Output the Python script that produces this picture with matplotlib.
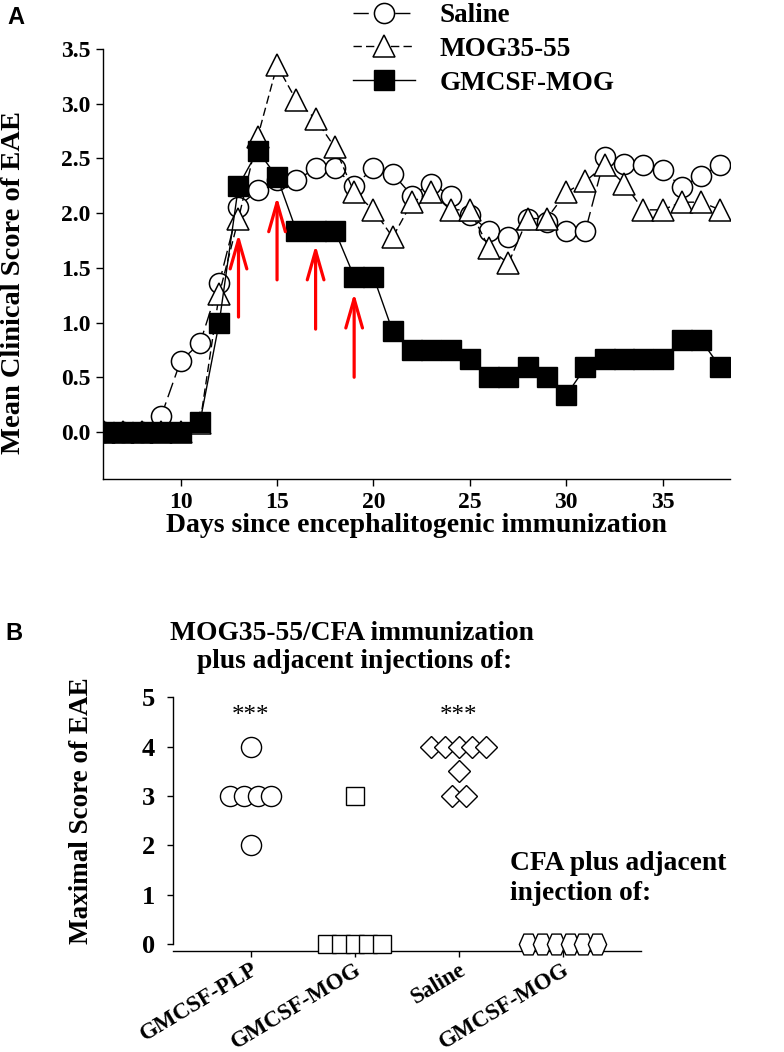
import matplotlib
matplotlib.use("Agg")
import matplotlib.pyplot as plt
from matplotlib.path import Path
import numpy as np

# ---------------- Panel A data ----------------
days = list(range(6, 39))
saline = [0, 0, 0, 0.15, 0.65, 0.81, 1.36, 2.06, 2.21, 2.30, 2.30, 2.41, 2.41, 2.25,
          2.41, 2.36, 2.16, 2.27, 2.16, 1.98, 1.84, 1.78, 1.95, 1.92, 1.84, 1.84,
          2.51, 2.45, 2.44, 2.39, 2.24, 2.34, 2.44]
mog = [0, 0, 0, 0, 0, 0.08, 1.26, 1.95, 2.70, 3.35, 3.03, 2.86, 2.60, 2.19, 2.03, 1.78,
       2.10, 2.19, 2.03, 2.03, 1.68, 1.54, 1.95, 1.95, 2.19, 2.29, 2.44, 2.27, 2.03,
       2.03, 2.10, 2.10, 2.03]
gmcsf_mog = [0, 0, 0, 0, 0, 0.09, 1.00, 2.25, 2.57, 2.33, 1.84, 1.84, 1.84, 1.42, 1.42,
             0.92, 0.75, 0.75, 0.75, 0.67, 0.50, 0.50, 0.59, 0.50, 0.335, 0.59, 0.67,
             0.67, 0.67, 0.67, 0.84, 0.84, 0.59]
series_labels = ["Saline", "MOG35-55", "GMCSF-MOG"]
arrow_days = [13, 15, 17, 19]
arrow_tail = [1.05, 1.39, 0.94, 0.50]
arrow_tip = [1.81, 2.15, 1.71, 1.27]
xticks_a = [10, 15, 20, 25, 30, 35]
yticks_a = [0.0, 0.5, 1.0, 1.5, 2.0, 2.5, 3.0, 3.5]

# ---------------- Panel B data ----------------
groups_b = ["GMCSF-PLP", "GMCSF-MOG", "Saline", "GMCSF-MOG"]
vals_plp = [4, 3, 3, 3, 3, 2]
vals_gmog = [3, 0, 0, 0, 0, 0]
vals_saline = [4, 4, 4, 4, 4, 3.5, 3, 3]
vals_cfa = [0, 0, 0, 0, 0, 0]
yticks_b = [0, 1, 2, 3, 4, 5]

SERIF = ["Liberation Serif", "DejaVu Serif"]
SANS = ["Liberation Sans", "DejaVu Sans"]
plt.rcParams["font.family"] = SERIF
plt.rcParams["font.weight"] = "bold"

W, H = 784, 1052
fig = plt.figure(figsize=(W / 100, H / 100), dpi=100)

def fx(px):
    return px / W

def fy(py):
    return 1 - py / H

# ---------------- Panel A ----------------
axA = fig.add_axes([fx(103), fy(479), fx(730) - fx(103), fy(49) - fy(479)])
axA.plot(days, saline, color="black", lw=1.0, dashes=(11, 4), marker="o",
         markersize=14.5, markerfacecolor="white", markeredgecolor="black",
         markeredgewidth=1.1, label=series_labels[0], zorder=3)
axA.plot(days, mog, color="black", lw=1.0, dashes=(6, 3), marker="^",
         markersize=16, markerfacecolor="white", markeredgecolor="black",
         markeredgewidth=1.1, label=series_labels[1], zorder=4)
axA.plot(days, gmcsf_mog, color="black", lw=1.0, marker="s",
         markersize=15, markerfacecolor="black", markeredgecolor="black",
         label=series_labels[2], zorder=5)
for d, t0, t1 in zip(arrow_days, arrow_tail, arrow_tip):
    axA.annotate("", xy=(d, t1), xytext=(d, t0),
                 arrowprops=dict(arrowstyle="->,head_length=21,head_width=6",
                                 mutation_scale=1, color="#ff0000", lw=2.3,
                                 shrinkA=0, shrinkB=0), zorder=6)
axA.set_xlim(5.97, 38.5)
axA.set_ylim(-0.43, 3.5)
axA.set_xticks(xticks_a)
axA.set_yticks(yticks_a)
axA.set_yticklabels([f"{v:.1f}" for v in yticks_a])
for s in ["top", "right"]:
    axA.spines[s].set_visible(False)
for s in ["left", "bottom"]:
    axA.spines[s].set_linewidth(1.0)
axA.tick_params(direction="out", length=5, width=1.0, labelsize=17, pad=4)
fig.text(fx(416), fy(525), "Days since encephalitogenic immunization",
         fontsize=20, fontweight="bold", ha="center", va="center")
fig.text(fx(14), fy(282), "Mean Clinical Score of EAE", fontsize=20.5,
         fontweight="bold", ha="center", va="center", rotation=90)
leg = fig.legend(loc="upper left", bbox_to_anchor=(fx(353), fy(3)),
                 frameon=False, borderpad=0, borderaxespad=0,
                 handlelength=2.3, handletextpad=0.9, labelspacing=0.33,
                 prop={"family": SERIF, "weight": "bold", "size": 19.5})
fig.text(fx(7), fy(17), "A", fontsize=17, fontweight="bold", family=SANS,
         va="center", ha="left")

# ---------------- Panel B ----------------
axB = fig.add_axes([fx(172.7), fy(950.7), fx(640.7) - fx(172.7),
                    fy(697.3) - fy(950.7)])
xpos = [1, 2, 3, 4]
step = 0.132

def swarm_x(center, vals):
    vals = np.asarray(vals, dtype=float)
    uniq = []
    for v in vals:
        if v not in uniq:
            uniq.append(v)
    out_x, out_y = [], []
    for u in uniq:
        n = int(np.sum(vals == u))
        offs = (np.arange(n) - (n - 1) / 2) * step
        out_x.extend(center + offs)
        out_y.extend([u] * n)
    return out_x, out_y

hexagon = Path([(-0.44, 0.0), (-0.22, 0.5), (0.22, 0.5), (0.44, 0.0),
                (0.22, -0.5), (-0.22, -0.5), (-0.44, 0.0)],
               [Path.MOVETO] + [Path.LINETO] * 5 + [Path.CLOSEPOLY])

specs = [
    (vals_plp, "o", 14.5),
    (vals_gmog, "s", 13),
    (vals_saline, "D", 11.5),
    (vals_cfa, hexagon, 15),
]
for x0, (vals, mk, ms) in zip(xpos, specs):
    xs, ys = swarm_x(x0, vals)
    for xx, yy in zip(xs, ys):
        axB.plot([xx], [yy], linestyle="none", marker=mk, markersize=ms,
                 markerfacecolor="white", markeredgecolor="black",
                 markeredgewidth=1.0, clip_on=False, zorder=4)

axB.set_xlim(0.25, 4.75)
axB.set_ylim(-0.135, 5.0)
axB.set_yticks(yticks_b)
axB.set_xticks(xpos)
axB.set_xticklabels(groups_b, rotation=31, ha="right", rotation_mode="anchor",
                    fontsize=16.5, fontweight="bold")
for s in ["top", "right"]:
    axB.spines[s].set_visible(False)
axB.spines["left"].set_bounds(0, 5)
axB.spines["left"].set_linewidth(1.0)
axB.spines["bottom"].set_linewidth(1.0)
axB.tick_params(axis="y", direction="out", length=4, width=1.0, labelsize=19, pad=9)
axB.tick_params(axis="x", direction="out", length=4, width=1.0, pad=2)
fig.text(fx(81.7), fy(811), "Maximal Score of EAE", fontsize=19.5,
         fontweight="bold", ha="center", va="center", rotation=90)

axB.text(1, 4.63, "***", fontsize=18, fontweight="normal", ha="center", va="center")
axB.text(3, 4.63, "***", fontsize=18, fontweight="normal", ha="center", va="center")
fig.text(fx(352), fy(634), "MOG35-55/CFA immunization", fontsize=19.8,
         fontweight="bold", ha="center", va="center")
fig.text(fx(355), fy(662), "plus adjacent injections of:", fontsize=19.8,
         fontweight="bold", ha="center", va="center")
fig.text(fx(510), fy(863), "CFA plus adjacent", fontsize=19.8,
         fontweight="bold", ha="left", va="center")
fig.text(fx(510), fy(893), "injection of:", fontsize=19.8,
         fontweight="bold", ha="left", va="center")
fig.text(fx(5), fy(633), "B", fontsize=17, fontweight="bold", family=SANS,
         va="center", ha="left")

fig.savefig("out.png", dpi=100)
